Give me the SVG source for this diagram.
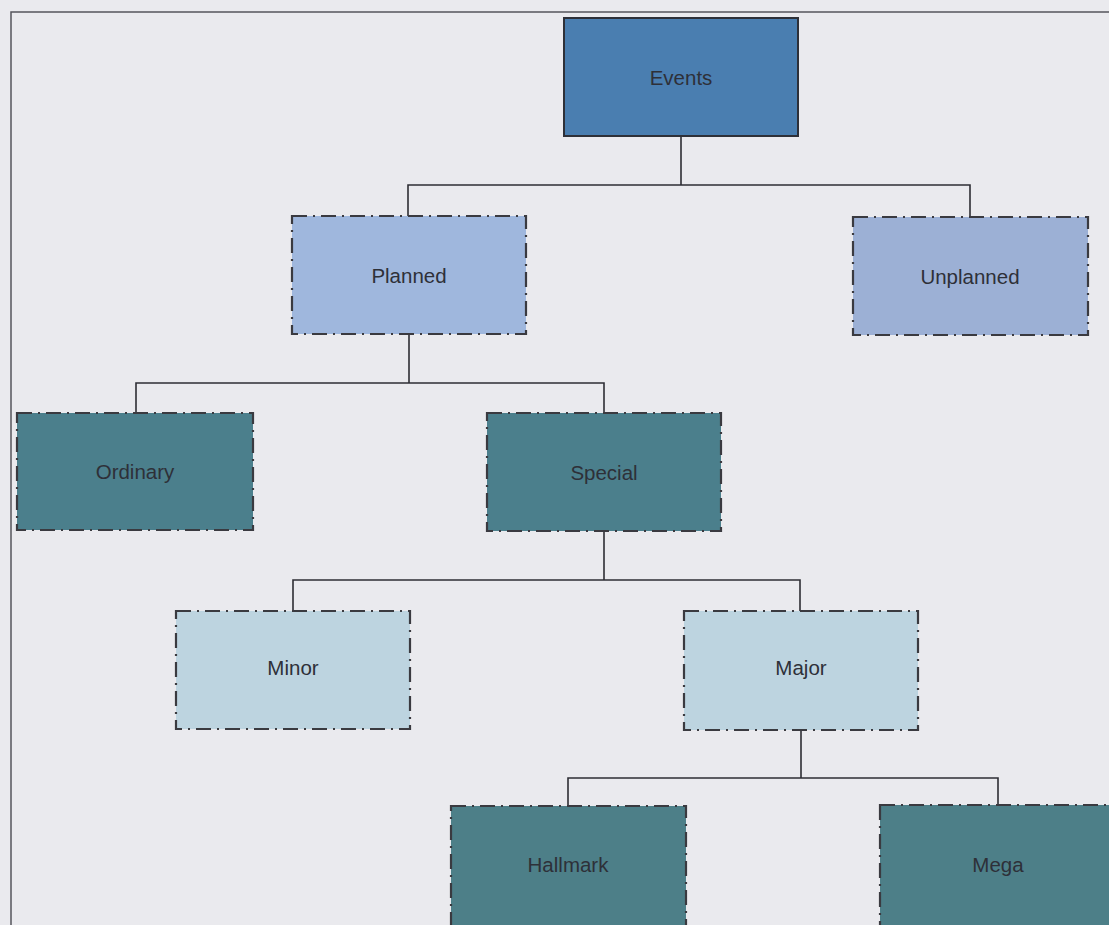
<svg xmlns="http://www.w3.org/2000/svg" width="1109" height="925" viewBox="0 0 1109 925">
<style>
.n{stroke:#3a3a40;stroke-width:2.2;stroke-dasharray:15 6 2 6}
.t{font-family:"Liberation Sans",Arial,sans-serif;font-size:20.5px;fill:#2e3038;text-anchor:middle;dominant-baseline:central}
.c{fill:none;stroke:#2e2e34;stroke-width:1.6}
</style>
<rect x="0" y="0" width="1109" height="925" fill="#eaeaee"/>
<path d="M11 925 V12 H1109" fill="none" stroke="#55555c" stroke-width="1.5"/>
<g id="connectors" class="c">
<path d="M681 136 V185 M408 216 V185 H970 V217"/>
<path d="M409 334 V383 M136 413 V383 H604 V413"/>
<path d="M604 531 V580 M293 611 V580 H800 V611"/>
<path d="M801 730 V778 M568 806 V778 H998 V805"/>
</g>
<g id="events"><rect x="564" y="18" width="234" height="118" fill="#4a7eb0" stroke="#2e3038" stroke-width="2"/><text class="t" x="681" y="77">Events</text></g>
<g id="planned"><rect class="n" x="292" y="216" width="234" height="118" fill="#9fb7dd"/><text class="t" x="409" y="275">Planned</text></g>
<g id="unplanned"><rect class="n" x="853" y="217" width="235" height="118" fill="#9cb0d5"/><text class="t" x="970" y="276">Unplanned</text></g>
<g id="ordinary"><rect class="n" x="17" y="413" width="236" height="117" fill="#4b7f8c"/><text class="t" x="135" y="471">Ordinary</text></g>
<g id="special"><rect class="n" x="487" y="413" width="234" height="118" fill="#4b7f8c"/><text class="t" x="604" y="472">Special</text></g>
<g id="minor"><rect class="n" x="176" y="611" width="234" height="118" fill="#bdd4e0"/><text class="t" x="293" y="667">Minor</text></g>
<g id="major"><rect class="n" x="684" y="611" width="234" height="119" fill="#bdd4e0"/><text class="t" x="801" y="667">Major</text></g>
<g id="hallmark"><rect class="n" x="451" y="806" width="235" height="130" fill="#4d7f88"/><text class="t" x="568" y="864">Hallmark</text></g>
<g id="mega"><rect class="n" x="880" y="805" width="240" height="130" fill="#4d7f88"/><text class="t" x="998" y="864">Mega</text></g>
</svg>
